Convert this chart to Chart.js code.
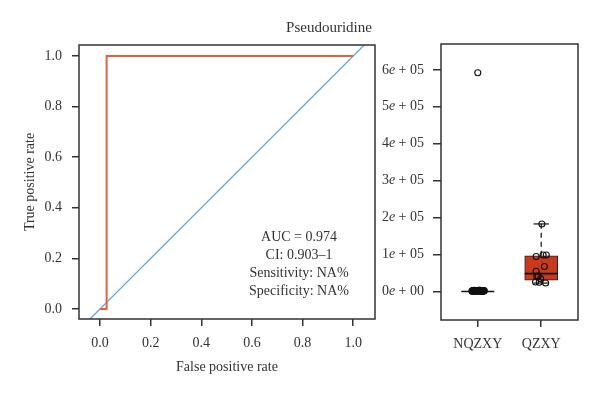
<!DOCTYPE html>
<html>
<head>
<meta charset="utf-8">
<script src="https://cdn.jsdelivr.net/npm/chart.js@4"></script>
<style>
  html, body { margin: 0; padding: 0; background: #fff; }
  #wrap { position: relative; width: 600px; height: 396px; }
  #roc { position: absolute; left: 0; top: 0; }
  #box { position: absolute; left: 360px; top: 0; }
  #title {
    position: absolute; left: 0; top: 18px; width: 658px; text-align: center;
    font: 15px "Liberation Serif", serif; line-height: 18px; color: #333;
  }
</style>
</head>
<body>
<div id="wrap">
  <canvas id="roc" width="390" height="396"></canvas>
  <canvas id="box" width="240" height="396"></canvas>
  <div id="title">Pseudouridine</div>
</div>
<script>
// ROC curve (false / true positive rate)
const fpr = [0, 0.026, 0.026, 1];
const tpr = [0, 0, 1, 1];
const rocTicks = [0, 0.2, 0.4, 0.6, 0.8, 1.0];
const aucText = ["AUC = 0.974", "CI: 0.903\u20131", "Sensitivity: NA%", "Specificity: NA%"];

// box plot per group
const groups = ["NQZXY", "QZXY"];
const boxLow = [0, 23000];
const boxQ1 = [0, 30500];
const boxMedian = [0, 48500];
const boxQ3 = [0, 97000];
const boxHigh = [0, 183000];
const boxTicks = [0, 100000, 200000, 300000, 400000, 500000, 600000];
const boxTickLabels = ["0e + 00", "1e + 05", "2e + 05", "3e + 05", "4e + 05", "5e + 05", "6e + 05"];

// individual samples (value, horizontal jitter)
const nqzxyValues = [592000, 1800, 2400, 900, 3100, 1500, 2700, 600, 2000, 1200, 3500, 800, 2200,
  1700, 2900, 1100, 2600, 1400, 3300, 700, 1900, 2300, 1000, 2800, 1600, 3000, 500, 2100, 1300,
  2500, 900, 3200, 1800, 1100, 2400, 1500, 2000, 1700];
const nqzxyJitter = [0.00, -0.09, 0.07, -0.04, 0.02, 0.09, -0.07, 0.05, -0.01, 0.08, -0.06, 0.03, -0.08,
  0.10, -0.03, 0.06, -0.05, 0.01, 0.04, -0.09, 0.09, -0.02, 0.07, -0.07, 0.00, 0.05, -0.04, 0.08, -0.06,
  0.03, -0.08, 0.02, 0.06, -0.05, 0.10, -0.03, 0.04, -0.01];
const qzxyValues = [183000, 95000, 99000, 99000, 68000, 55000, 42000, 41000, 35000, 26000, 25000, 23000];
const qzxyJitter = [0.01, -0.08, 0.03, 0.08, 0.05, -0.08, -0.05, -0.07, -0.01, -0.09, -0.03, 0.07];

const serif = "'Liberation Serif', 'Times New Roman', serif";
const ink = "#333333";
const rocRed = "#E3623B";
const diagBlue = "#5AA8E6";
const boxRed = "#C9391C";

Chart.defaults.font.family = serif;
Chart.defaults.font.size = 14;
Chart.defaults.color = ink;

// R style box round the plot region
const framePlugin = {
  id: "frame",
  afterDatasetsDraw(chart) {
    const a = chart.chartArea, ctx = chart.ctx;
    ctx.save();
    ctx.strokeStyle = ink;
    ctx.lineWidth = 1.5;
    ctx.strokeRect(a.left, a.top, a.right - a.left, a.bottom - a.top);
    ctx.restore();
  }
};

const aucX = 0.786, aucY = 0.27;
const aucPlugin = {
  id: "aucText",
  afterDatasetsDraw(chart) {
    const ctx = chart.ctx;
    const x = chart.scales.x.getPixelForValue(aucX);
    const y0 = chart.scales.y.getPixelForValue(aucY);
    ctx.save();
    ctx.font = "14px " + serif;
    ctx.fillStyle = ink;
    ctx.textAlign = "center";
    ctx.textBaseline = "alphabetic";
    aucText.forEach((t, i) => ctx.fillText(t, x, y0 + i * 18));
    ctx.restore();
  }
};

const tickGrid = { drawOnChartArea: false, tickLength: 7, color: ink, lineWidth: 1.5, offset: false };
const tickFont = { family: serif, size: 14 };

new Chart(document.getElementById("roc"), {
  type: "scatter",
  data: {
    datasets: [
      {
        data: fpr.map((v, i) => ({ x: v, y: tpr[i] })),
        showLine: true, borderColor: rocRed, borderWidth: 2, pointRadius: 0, clip: 0, order: 1
      },
      {
        // chance line y = x over the whole x range
        data: [{ x: -0.083, y: -0.083 }, { x: 1.086, y: 1.086 }],
        showLine: true, borderColor: diagBlue, borderWidth: 1.3, pointRadius: 0, clip: 0, order: 2
      }
    ]
  },
  options: {
    responsive: false,
    animation: false,
    events: [],
    layout: { padding: { top: 45, right: 15, left: 0, bottom: 0 }, autoPadding: false },
    plugins: { legend: { display: false }, tooltip: { enabled: false } },
    scales: {
      x: {
        type: "linear", min: -0.083, max: 1.086,
        afterBuildTicks: s => { s.ticks = rocTicks.map(v => ({ value: v })); },
        afterFit: s => { s.height = 77; },
        ticks: { callback: v => v.toFixed(1), font: tickFont, color: ink, padding: 9, maxRotation: 0, autoSkip: false },
        grid: tickGrid,
        border: { display: false },
        title: { display: true, text: "False positive rate", font: tickFont, color: ink, padding: { top: 0, bottom: 20.6 } }
      },
      y: {
        type: "linear", min: -0.0395, max: 1.0435,
        afterBuildTicks: s => { s.ticks = rocTicks.map(v => ({ value: v })); },
        afterFit: s => { s.width = 79; },
        ticks: { callback: v => v.toFixed(1), font: tickFont, color: ink, padding: 10, autoSkip: false },
        grid: tickGrid,
        border: { display: false },
        title: { display: true, text: "True positive rate", font: tickFont, color: ink, padding: { top: 22, bottom: 0 } }
      }
    }
  },
  plugins: [framePlugin, aucPlugin]
});

// box plot pieces
const boxHalf = 0.26, capHalf = 0.12;
const seg = (x1, y1, x2, y2, extra) => Object.assign({
  type: "line",
  data: [{ x: x1, y: y1 }, { x: x2, y: y2 }],
  borderColor: "#111", borderWidth: 1.2, pointRadius: 0, fill: false, clip: 0, order: 2
}, extra || {});

const boxSets = [{
  type: "bar",
  data: groups.map((g, i) => ({ x: i + 1, y: [boxQ1[i], boxQ3[i]] })),
  backgroundColor: boxRed, borderColor: "#222", borderWidth: 1, borderSkipped: false,
  barThickness: 33, order: 3
}];
groups.forEach((g, i) => {
  const c = i + 1;
  boxSets.push(seg(c, boxQ3[i], c, boxHigh[i], { borderDash: [5, 4] }));
  boxSets.push(seg(c, boxQ1[i], c, boxLow[i], { borderDash: [5, 4] }));
  boxSets.push(seg(c - capHalf, boxHigh[i], c + capHalf, boxHigh[i]));
  boxSets.push(seg(c - capHalf, boxLow[i], c + capHalf, boxLow[i]));
  boxSets.push(seg(c - boxHalf, boxMedian[i], c + boxHalf, boxMedian[i], { borderWidth: 1.6 }));
});
const pointStyle = {
  type: "scatter", pointRadius: 3, borderWidth: 1.1, borderColor: "#111",
  backgroundColor: "rgba(0,0,0,0)", order: 1
};
boxSets.push(Object.assign({ data: nqzxyValues.map((v, k) => ({ x: 1 + nqzxyJitter[k], y: v })) }, pointStyle));
boxSets.push(Object.assign({ data: qzxyValues.map((v, k) => ({ x: 2 + qzxyJitter[k], y: v })) }, pointStyle));

// y labels like "6e + 05" with an italic e
const eTickPlugin = {
  id: "eTicks",
  afterDraw(chart) {
    const s = chart.scales.y, ctx = chart.ctx;
    const up = "14px " + serif, it = "italic 14px " + serif;
    ctx.save();
    ctx.fillStyle = ink;
    ctx.textBaseline = "middle";
    ctx.textAlign = "left";
    boxTicks.forEach((v, k) => {
      const parts = boxTickLabels[k].split("e");
      const y = s.getPixelForValue(v);
      ctx.font = up;
      const w1 = ctx.measureText(parts[0]).width, w3 = ctx.measureText(parts[1]).width;
      ctx.font = it;
      const w2 = ctx.measureText("e").width;
      let x = s.right - 8 - 9 - (w1 + w2 + w3);
      ctx.font = up; ctx.fillText(parts[0], x, y); x += w1;
      ctx.font = it; ctx.fillText("e", x, y); x += w2;
      ctx.font = up; ctx.fillText(parts[1], x, y);
    });
    ctx.restore();
  }
};

new Chart(document.getElementById("box"), {
  type: "scatter",
  data: { datasets: boxSets },
  options: {
    responsive: false,
    animation: false,
    events: [],
    layout: { padding: { top: 44, right: 22, left: 0, bottom: 0 }, autoPadding: false },
    plugins: { legend: { display: false }, tooltip: { enabled: false } },
    scales: {
      x: {
        type: "linear", min: 0.42, max: 2.58, offset: false,
        afterBuildTicks: s => { s.ticks = groups.map((g, i) => ({ value: i + 1 })); },
        afterFit: s => { s.height = 76; },
        ticks: { callback: v => groups[v - 1], font: tickFont, color: ink, padding: 9, maxRotation: 0, autoSkip: false },
        grid: tickGrid,
        border: { display: false }
      },
      y: {
        type: "linear", min: -77000, max: 670000,
        afterBuildTicks: s => { s.ticks = boxTicks.map(v => ({ value: v })); },
        afterFit: s => { s.width = 81; },
        ticks: { callback: (v, k) => boxTickLabels[k], font: tickFont, color: "rgba(0,0,0,0)", autoSkip: false },
        grid: Object.assign({}, tickGrid, { tickLength: 8 }),
        border: { display: false }
      }
    }
  },
  plugins: [framePlugin, eTickPlugin]
});
</script>
</body>
</html>
